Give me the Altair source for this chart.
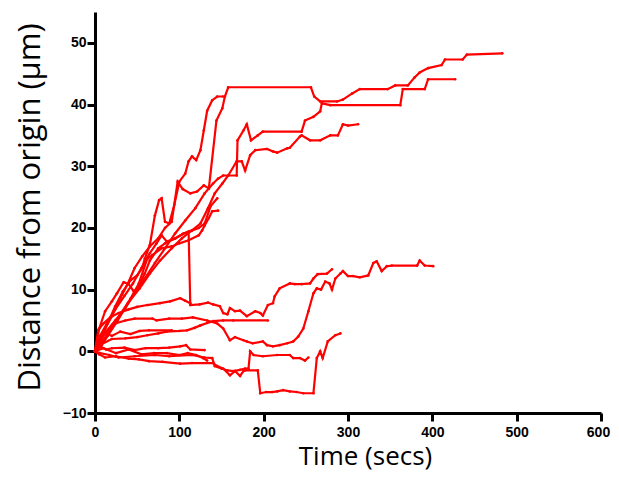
import altair as alt
import pandas as pd

# Each track: list of (time in secs, distance from origin in µm)
TRACK_01 = [(0,0),(6,1.3),(12,3.7),(20,5.7),(30,8.6),(39,11),(47,13.5),(56,15.4),(65,17),(75,18.3),(83,20),(91,21),
            (98,27.5),(104,26.3),(113,25.6),(121,25.9),(129,26.9),(135,26.4),(144,37.4),(151,39.4),(154,41.3),(158,42.8),
            (256,42.8),(260,41.3),(267,40.5),(287,40.5),(294,40.8),(305,41.8),(314,42.5),(347,42.5),(356,43.1),(371,43.1),
            (379,44.4),(385,45.2),(395,45.9),(411,46.4),(415,47.3),(436,47.3),(441,48.1),(483,48.3)]
TRACK_02 = [(0,0),(5,1.5),(12,3),(24,5),(36,7),(47,9.4),(59,11.8),(71,14.3),(83,16.7),(95,19.1),(107,21.2),(119,23.2),
            (130,25.6),(140,27.2),(146,28),(152,28.5),(168,28.5),(169,34.2),(176,35.8),(180,36.8),(185,34.2),(193,35),
            (199,35.6),(245,35.6),(249,37.4),(259,38),(267,38.9),(269,40.2),(279,39.9),(362,39.9),(365,42.5),(391,42.5),
            (395,44.1),(427,44.1)]
TRACK_03 = [(0,0),(8,1),(15,2.5),(27,5),(39,7.8),(53,10.2),(65,12.6),(77,14.7),(91,16.7),(103,18.3),(115,19.6),(125,20.7),
            (134,23.2),(142,25.6),(151,27.2),(158,28.5),(168,30.8),(174,30.8),(178,29.3),(184,31.8),(190,32.6),(204,32.8),
            (211,32.4),(216,32.2),(228,32.9),(231,33),(243,34.8),(245,35),(255,34.2),(267,34.2),(279,35),(288,35),
            (294,36.8),(300,36.6),(312,36.8)]
TRACK_04 = [(0,0),(5,3.7),(12,6.5),(20,8.1),(26,9.4),(34,11.2),(40,10.9),(46,9.7),(52,10.5),(59,12.6),(65,14.7),(75,16.7),
            (83,17.5),(95,18.3),(104,19),(111,19.4),(113,7.5),(124,7.6),(134,7.9),(140,7.6),(148,7.3),(152,6.2),(157,6),
            (160,7),(166,6.5),(172,6.6),(180,5.7),(190,6.5),(196,6.2),(199,5.8),(205,7.5),(211,7.8),(213,8.9),(219,10.2),
            (231,11),(237,10.9),(245,10.9),(255,11),(259,11.8),(264,12.5),(275,12.6),(281,13.3)]
TRACK_05 = [(0,0),(7,2),(15,4.5),(24,7.3),(33,9.7),(42,11.5),(50,12.3),(56,13.5),(59,15),(65,17.2),(71,22),(76,24.5),
            (79,24.8),(83,21),(88,20.7),(94,23.7),(100,27.5),(107,28.8),(111,30.8),(115,31.6),(120,31),(125,32.6),
            (129,35.8),(133,39),(139,40.7),(145,41.3),(152,41.3)]
TRACK_06 = [(0,0),(5,1.5),(12,3),(24,4.5),(36,5),(47,5.3),(68,5.3),(73,5),(88,5.3),(103,5.3),(116,5.5),(133,5),(145,4.5),
            (152,3.7),(160,1.8),(166,2.3),(176,1.8),(180,1.6),(187,1.3),(199,1.6),(204,1),(211,0.8),(219,1),(228,1.3),
            (235,1.6),(241,2.4),(247,3.7),(253,6.5),(259,9.4),(263,10.2),(268,10),(273,11.3),(278,11),(281,10),(285,11.8),
            (291,12.6),(294,13),(300,12.2),(306,12.2),(314,12),(324,12.3),(330,14.3),(334,14.6),(340,13),(346,13.8),
            (352,13.9),(382,13.9),(385,14.7),(391,13.9),(401,13.8)]
TRACK_07 = [(0,0),(8,1.2),(20,2),(36,2.1),(50,2.3),(62,2.6),(75,2.9),(85,3.2),(100,3.3),(109,3.4),(118,3.8),(125,4.2),
            (133,4.6),(140,4.9),(152,5),(164,5),(205,5)]
TRACK_08 = [(0,0),(6,0.8),(13,0.3),(20,0.5),(35,0.6),(47,0.2),(60,0.5),(75,0.5),(88,0.6),(101,0.8),(108,1),(113,0.3),
            (130,0.2)]
TRACK_09 = [(0,0),(5,2),(12,3),(20,2.5),(30,3.2),(42,2.8),(53,3.3),(64,3.4),(91,3.4)]
TRACK_10 = [(0,0),(4,3.5),(10,4.5),(18,5.5),(28,6.2),(40,6.8),(50,7.2),(62,7.5),(77,7.8),(89,8.1),(101,8.6),(107,8.2),
            (113,7.8)]
TRACK_11 = [(0,0),(5,-0.5),(12,-1),(25,-0.8),(40,-1.2),(52,-1.3),(64,-1.6),(80,-1.7),(101,-2),(115,-1.9),(140,-1.9),
            (145,-2.4),(152,-2.8),(160,-3.9),(166,-3.2),(172,-4),(176,-3.2),(178,-3.1),(193,-3.1),(196,-6.8),(203,-6.6),
            (210,-6.6),(216,-6.5),(223,-6.3),(231,-6.5),(239,-6.6),(247,-6.8),(259,-6.8),(263,-1.1),(267,0),(270,-1.1),
            (276,1.6),(285,2.6),(291,2.9)]
TRACK_12 = [(0,0),(6,-0.3),(17,-0.6),(28,-1),(47,-0.8),(71,-0.6),(88,-0.8),(115,-0.6),(130,-1),(139,-1.1),(142,-2.4),
            (150,-2.8),(157,-3.1),(164,-3.2),(172,-3),(178,-2.8),(182,-2.8),(184,0),(188,-0.6),(199,-0.8),(216,-0.6),
            (231,-0.6),(235,-1.1),(243,-1.1),(249,-1.5),(253,-1)]
TRACK_13 = [(0,0),(6,2.5),(14,4.5),(24,6.8),(35,9),(45,11),(55,13.5),(65,15.9),(73,17.5),(79,18.8),(85,17.8),(95,18.3),
            (105,19.1),(115,19.6),(123,20),(130,20.7),(137,23.5),(145,24.8)]
TRACK_14 = [(0,0),(8,1.5),(18,3.5),(30,6),(42,8.5),(52,11),(62,15),(68,15.6),(79,16.7),(91,17),(100,17.5),(111,18),
            (123,18.8),(127,19.6),(130,20.4),(135,21.6),(139,22.7),(146,22.8)]
TRACK_15 = [(0,0),(10,0.5),(25,-0.3),(40,0.3),(55,-0.5),(70,-0.3),(85,-0.3),(100,-0.6),(110,-0.3),(120,-0.6),(128,-1.1),
            (133,-1.5)]

TRACKS = [TRACK_01, TRACK_02, TRACK_03, TRACK_04, TRACK_05, TRACK_06, TRACK_07, TRACK_08,
          TRACK_09, TRACK_10, TRACK_11, TRACK_12, TRACK_13, TRACK_14, TRACK_15]

X_TICKS = [0, 100, 200, 300, 400, 500, 600]
Y_TICKS = [-10, 0, 10, 20, 30, 40, 50]

rows = []
for k, tr in enumerate(TRACKS):
    for i, (t, d) in enumerate(tr):
        rows.append({"track": k, "i": i, "t": t, "d": d})
df = pd.DataFrame(rows)

x_axis = alt.Axis(values=X_TICKS, title="Time (secs)", grid=False, labelFlush=False, labelOverlap=False,
                  labelFont="Liberation Sans", labelFontWeight="bold", labelFontSize=14, labelColor="black",
                  labelOffset={"condition": {"test": "datum.value == 600", "value": -3}, "value": 0},
                  labelPadding=4, tickSize=8, tickWidth=3, tickColor="black", domainWidth=3, domainColor="black",
                  titleFont="Open Sans", titleFontSize=26, titleFontWeight="normal", titleColor="black",
                  titleX=270, titleY=51, titleAlign="center", titleBaseline="alphabetic")
y_axis = alt.Axis(values=Y_TICKS, title="Distance from origin (μm)", grid=False, labelFlush=False, labelOverlap=False,
                  labelFont="Liberation Sans", labelFontWeight="bold", labelFontSize=14, labelColor="black",
                  labelPadding=1, tickSize=8, tickWidth=3, tickColor="black", domainWidth=3, domainColor="black",
                  titleFont="Open Sans", titleFontSize=31, titleFontWeight="normal", titleColor="black",
                  titleAngle=270, titleX=-56, titleY=195, titleAlign="center", titleBaseline="alphabetic")

base = alt.Chart(df).encode(
    x=alt.X("t:Q", scale=alt.Scale(domain=[0, 600], nice=False, zero=False), axis=x_axis),
    y=alt.Y("d:Q", scale=alt.Scale(domain=[-10, 55], nice=False, zero=False), axis=y_axis),
    detail="track:N",
    order="i:Q",
)
lines = base.mark_line(color="#FF0000", strokeWidth=2.2)
pts = base.mark_point(filled=True, size=7, color="#FF0000", opacity=1)

chart = (lines + pts).properties(
    width=506, height=401,
    autosize=alt.AutoSizeParams(type="none"),
    padding={"left": 87, "top": 4, "right": 10, "bottom": 59},
).configure_view(stroke=None)

chart.save("out.html", embed_options={"renderer": "svg", "actions": False})
